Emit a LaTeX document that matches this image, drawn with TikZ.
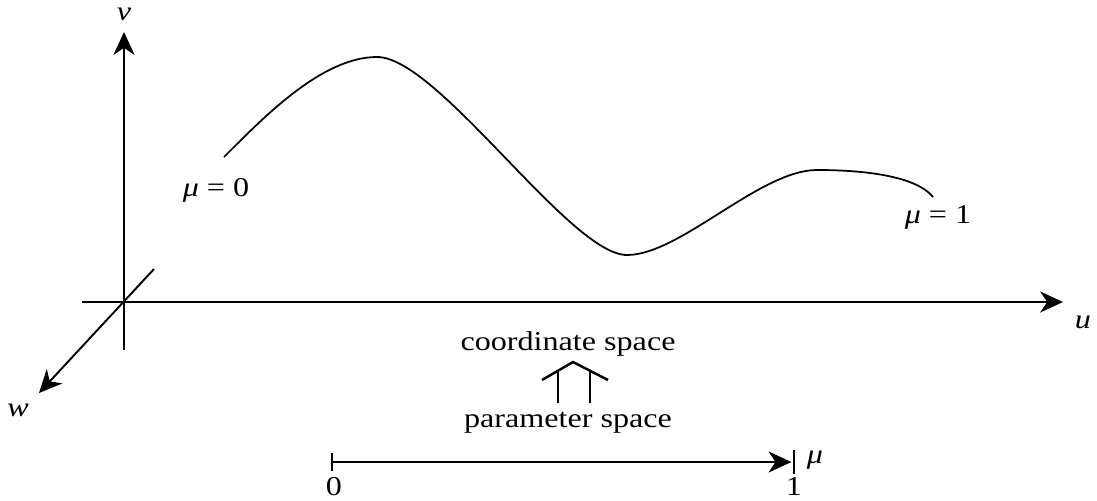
\documentclass[tikz,border=0pt]{standalone}
\usepackage{fontspec}
\setmainfont{Liberation Serif}[FakeStretch=1.18]
\usetikzlibrary{arrows.meta}
\begin{document}
\begin{tikzpicture}[x=0.02cm,y=-0.02cm,
    axis/.style={line width=1.1pt,-{Stealth[length=13pt,width=12pt,inset=4pt]}},
    lbl/.style={font=\fontsize{15.5}{18}\selectfont,inner sep=0pt}]
    \useasboundingbox (0,0) rectangle (1097,500);
    \coordinate (O) at (124,302);
    \coordinate (vB) at (124,350); \coordinate (vT) at (124,32);
    \coordinate (uL) at (82,302); \coordinate (uR) at (1063,302);
    \coordinate (wT) at (154,269); \coordinate (wB) at (39,393);
    \draw[axis] (vB)--(vT); \draw[axis] (uL)--(uR); \draw[axis] (wT)--(wB);
    \node[lbl] (v) at (124,14) {\textit{v}};
    \node[lbl] (u) at (1083,322) {\textit{u}};
    \node[lbl] (w) at (18,410) {\textit{w}};
    \coordinate (c0) at (224,157); \coordinate (c1) at (377,57);
    \coordinate (c2) at (627,255); \coordinate (c3) at (817,170);
    \coordinate (c4) at (933,197);
    \draw[line width=1pt] (c0) .. controls (264,117) and (322,57) .. (c1)
      .. controls (438,57) and (570,255) .. (c2)
      .. controls (680,255) and (760,170) .. (c3)
      .. controls (860,170) and (915,175) .. (c4);
    \node[lbl] (m0) at (216,190) {\textit{μ} = 0};
    \node[lbl] (m1) at (938,217) {\textit{μ} = 1};
    \node[lbl] (cs) at (568,344) {coordinate space};
    \node[lbl] (ps) at (568,423) {parameter space};
    \coordinate (apex) at (573,362);
    \draw[line width=1.4pt] (542,380)--(apex)--(608,380);
    \draw[line width=0.9pt] (558,403)--(558,371); \draw[line width=0.9pt] (590,403)--(590,371);
    \coordinate (p0) at (332,462); \coordinate (p1) at (794,462);
    \draw[axis,shorten >=1.5pt] (p0)--(p1);
    \draw[line width=1pt] (332,453)--(332,471); \draw[line width=1pt] (794,450)--(794,474);
    \node[lbl] (mu) at (815,460) {\textit{μ}};
    \node[lbl] (z) at (334,487) {0};
    \node[lbl] (o) at (794,487) {1};
  \end{tikzpicture}
\end{document}
